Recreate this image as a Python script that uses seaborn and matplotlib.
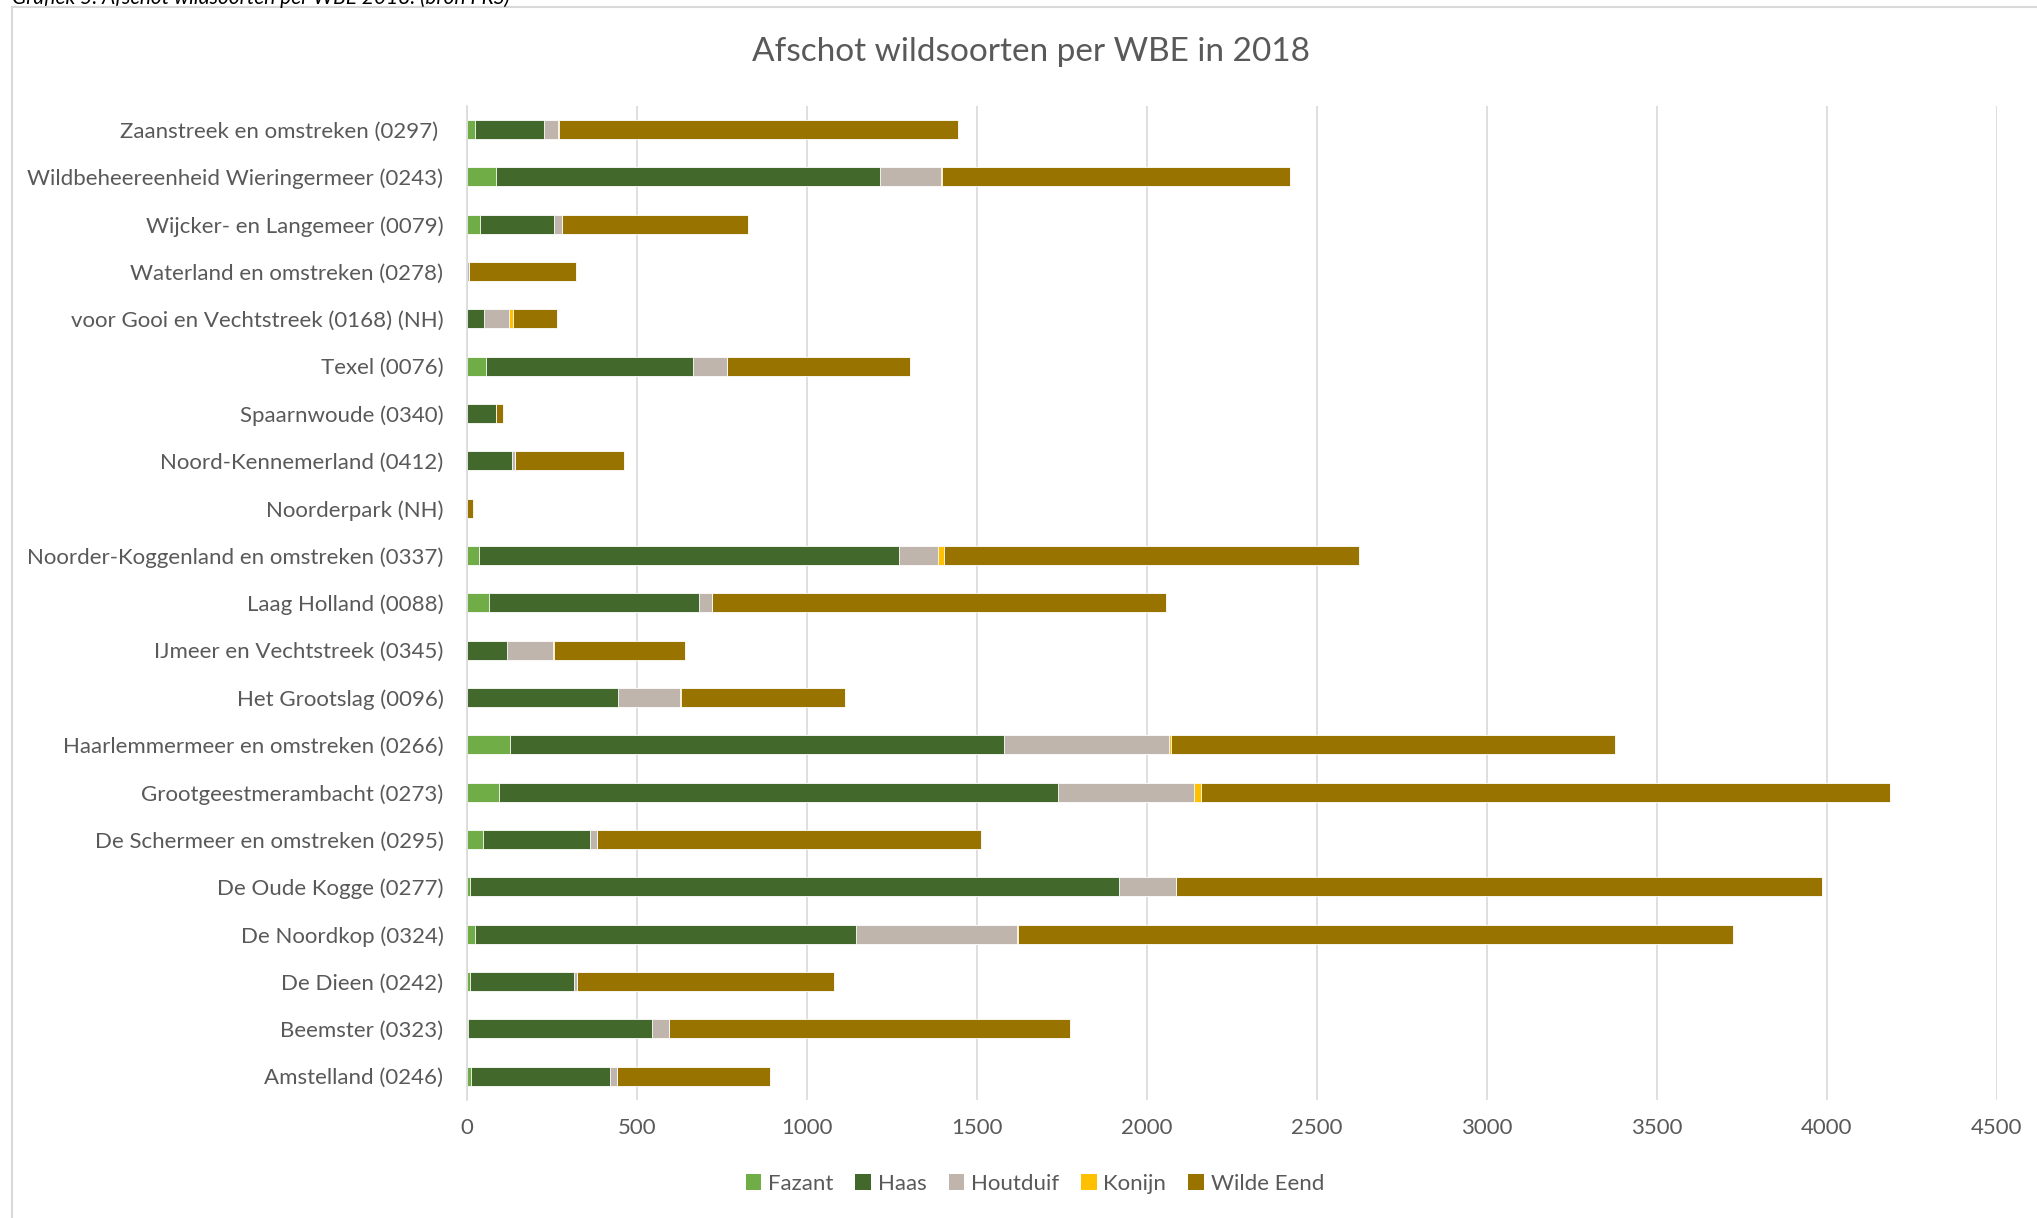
import numpy as np
import pandas as pd
import matplotlib
matplotlib.use("Agg")
import matplotlib.pyplot as plt
import seaborn as sns
from matplotlib.patches import Patch, Rectangle

# wildbeheereenheden (van boven naar beneden)
wbe = [
    "Zaanstreek en omstreken (0297) ",
    "Wildbeheereenheid Wieringermeer (0243)",
    "Wijcker- en Langemeer (0079)",
    "Waterland en omstreken (0278)",
    "voor Gooi en Vechtstreek (0168) (NH)",
    "Texel (0076)",
    "Spaarnwoude (0340)",
    "Noord-Kennemerland (0412)",
    "Noorderpark (NH)",
    "Noorder-Koggenland en omstreken (0337)",
    "Laag Holland (0088)",
    "IJmeer en Vechtstreek (0345)",
    "Het Grootslag (0096)",
    "Haarlemmermeer en omstreken (0266)",
    "Grootgeestmerambacht (0273)",
    "De Schermeer en omstreken (0295)",
    "De Oude Kogge (0277)",
    "De Noordkop (0324)",
    "De Dieen (0242)",
    "Beemster (0323)",
    "Amstelland (0246)",
]

fazant = [22, 84, 39, 0, 0, 56, 0, 0, 0, 35, 64, 0, 0, 127, 94, 48, 8, 24, 8, 3, 12]
haas = [203, 1130, 216, 0, 49, 608, 84, 131, 0, 1235, 617, 116, 443, 1451, 1644, 314, 1910, 1119, 306, 542, 407]
houtduif = [43, 179, 23, 6, 75, 102, 0, 11, 0, 115, 39, 137, 182, 486, 399, 21, 167, 476, 9, 50, 21]
konijn = [3, 5, 0, 0, 11, 0, 0, 0, 0, 17, 0, 2, 3, 8, 23, 0, 0, 3, 0, 0, 0]
wilde_eend = [1173, 1023, 548, 315, 130, 537, 23, 321, 17, 1222, 1335, 385, 485, 1304, 2026, 1128, 1900, 2103, 757, 1179, 452]

soorten = ["Fazant", "Haas", "Houtduif", "Konijn", "Wilde Eend"]
kleuren = ["#70AD47", "#43682B", "#BFB5AC", "#FFC000", "#997300"]
xticks = [0, 500, 1000, 1500, 2000, 2500, 3000, 3500, 4000, 4500]

df = pd.DataFrame({"WBE": wbe, "Fazant": fazant, "Haas": haas, "Houtduif": houtduif,
                   "Konijn": konijn, "Wilde Eend": wilde_eend})
cum = df[soorten].cumsum(axis=1)

sns.set_style("white")
plt.rcParams["font.family"] = ["Lato", "DejaVu Sans"]
tekst = "#595959"

fig = plt.figure(figsize=(20.37, 12.18), dpi=100)
ax = fig.add_axes([0.2293, 0.097, 0.7510, 0.816])

# gestapelde balken: van totaal naar eerste soort over elkaar tekenen
for soort, kleur in reversed(list(zip(soorten, kleuren))):
    sns.barplot(x=cum[soort], y=df["WBE"], order=wbe, orient="h", color=kleur,
                saturation=1, width=0.4, edgecolor="white", linewidth=0.6, ax=ax)

ax.set_xlim(0, 4500)
ax.set_xticks(xticks)
ax.set_xticklabels([str(t) for t in xticks])
ax.set_xlabel("")
ax.set_ylabel("")
ax.xaxis.grid(True, color="#D9D9D9", linewidth=1.2)
ax.set_axisbelow(True)
for s in ["top", "right", "bottom"]:
    ax.spines[s].set_visible(False)
ax.spines["left"].set_color("#D9D9D9")
ax.spines["left"].set_linewidth(1.2)
ax.tick_params(axis="y", length=0, pad=17, labelsize=16, labelcolor=tekst)
ax.tick_params(axis="x", length=0, pad=13, labelsize=16, labelcolor=tekst)

fig.text(0.506, 0.957, "Afschot wildsoorten per WBE in 2018", ha="center", va="center",
         fontsize=24, color=tekst)

handles = [Patch(facecolor=k, edgecolor="none", label=s) for s, k in zip(soorten, kleuren)]
fig.legend(handles=handles, loc="center", bbox_to_anchor=(0.508, 0.028), ncol=5,
           frameon=False, fontsize=16, labelcolor=tekst, handlelength=0.7,
           handleheight=0.7, handletextpad=0.3, columnspacing=1.0)

# rand van het grafiekvlak en afgesneden bijschrift erboven
fig.patches.append(Rectangle((11.5 / 2037, -0.01), 1.0, 1 - 7 / 1218 + 0.01,
                             transform=fig.transFigure, fill=False,
                             edgecolor="#D9D9D9", linewidth=1.5))
fig.text(0.006, 1 - 4.5 / 1218, "Grafiek 5. Afschot wildsoorten per WBE 2018. (bron FRS)",
         ha="left", va="baseline", fontsize=15, style="italic", color="black")

fig.savefig("out.png", dpi=100)
